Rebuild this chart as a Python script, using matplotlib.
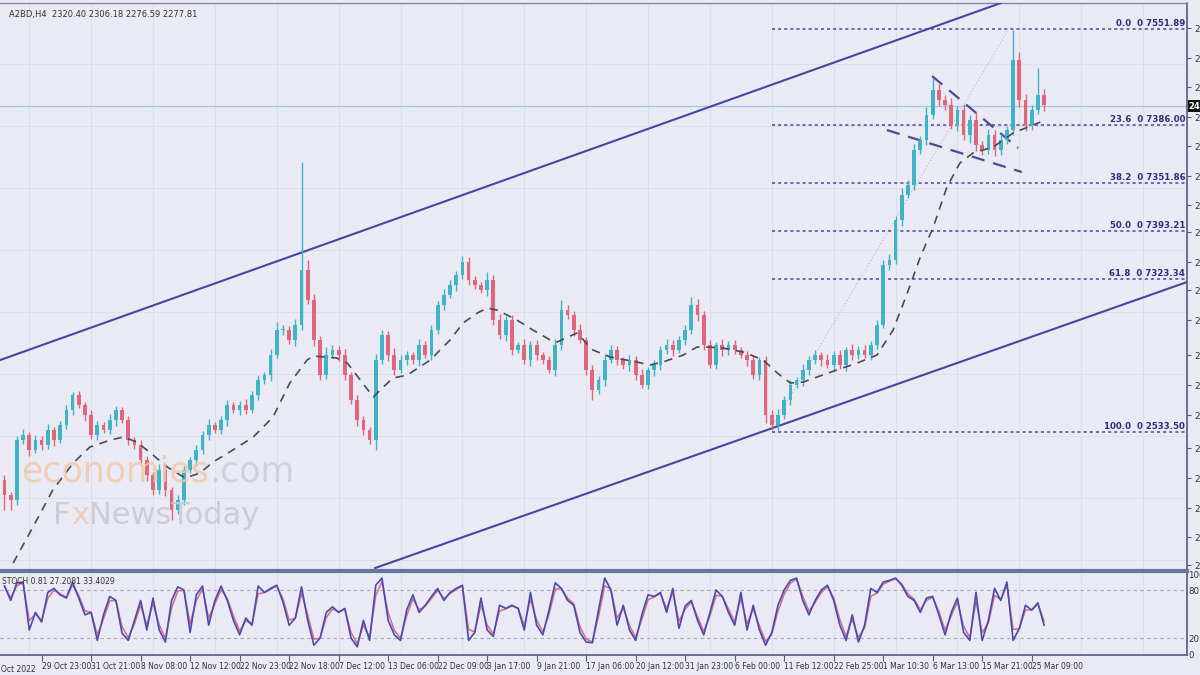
import numpy as np
import pandas as pd
import matplotlib
matplotlib.use('Agg')
import matplotlib.pyplot as plt

# ---- data (H4 bars, price units) ----
first_open = 2120
closes = [2105, 2100, 2160, 2165, 2150, 2160, 2155, 2170, 2160, 2175,
          2190, 2205, 2195, 2185, 2165, 2175, 2170, 2180, 2190, 2180,
          2160, 2155, 2140, 2125, 2110, 2130, 2110, 2090, 2100, 2130,
          2140, 2150, 2165, 2175, 2170, 2180, 2195, 2190, 2195, 2190,
          2205, 2220, 2225, 2245, 2270, 2270, 2260, 2275, 2330, 2300,
          2260, 2225, 2245, 2250, 2245, 2225, 2200, 2180, 2170, 2160,
          2240, 2265, 2245, 2230, 2240, 2245, 2240, 2255, 2245, 2270,
          2295, 2305, 2315, 2325, 2338, 2320, 2315, 2310, 2320, 2280,
          2265, 2280, 2250, 2255, 2240, 2255, 2245, 2240, 2230, 2255,
          2290, 2285, 2270, 2260, 2230, 2210, 2220, 2240, 2250, 2240,
          2235, 2240, 2225, 2215, 2230, 2235, 2250, 2255, 2250, 2260,
          2270, 2295, 2285, 2255, 2235, 2255, 2250, 2255, 2250, 2245,
          2240, 2225, 2240, 2185, 2175, 2185, 2200, 2215, 2220, 2230,
          2240, 2245, 2240, 2235, 2245, 2235, 2250, 2245, 2250, 2245,
          2255, 2275, 2335, 2340, 2380, 2405, 2415, 2450, 2460, 2485,
          2510, 2500, 2495, 2475, 2490, 2465, 2480, 2455, 2450, 2465,
          2450, 2460, 2470, 2540, 2500, 2475, 2490, 2505, 2495]
up_wick = [5, 3, 4, 6, 3, 5, 4, 6, 3, 4,
           5, 3, 4, 3, 5, 4, 3, 6, 4, 3,
           4, 3, 5, 4, 3, 6, 4, 3, 5, 4,
           3, 5, 4, 6, 3, 4, 5, 3, 4, 6,
           4, 5, 3, 6, 8, 5, 4, 6, 108, 10,
           6, 4, 8, 5, 4, 6, 3, 5, 4, 3,
           6, 5, 4, 7, 5, 4, 3, 6, 4, 5,
           4, 6, 5, 4, 6, 5, 4, 3, 8, 5,
           6, 4, 5, 3, 6, 4, 5, 3, 4, 6,
           10, 5, 4, 6, 3, 5, 4, 6, 5, 4,
           3, 5, 4, 6, 3, 5, 4, 6, 5, 4,
           5, 8, 6, 4, 5, 3, 6, 4, 5, 3,
           4, 5, 3, 4, 5, 6, 4, 5, 3, 6,
           4, 5, 3, 6, 4, 5, 3, 6, 4, 5,
           4, 5, 5, 6, 4, 7, 5, 6, 4, 8,
           12, 6, 5, 7, 4, 6, 5, 8, 4, 6,
           5, 6, 4, 30, 8, 6, 5, 27, 6]
dn_wick = [15, 10, 5, 4, 6, 3, 5, 4, 6, 3,
           4, 5, 3, 6, 4, 5, 3, 4, 6, 3,
           5, 4, 3, 6, 5, 4, 6, 10, 4, 5,
           3, 6, 4, 5, 3, 4, 6, 3, 5, 4,
           3, 5, 4, 6, 3, 5, 4, 6, 5, 4,
           6, 5, 4, 3, 6, 5, 4, 6, 5, 4,
           10, 4, 6, 5, 3, 5, 4, 6, 3, 5,
           4, 5, 3, 6, 4, 5, 4, 3, 6, 5,
           4, 6, 5, 3, 4, 6, 5, 4, 3, 6,
           5, 4, 6, 3, 5, 10, 4, 6, 3, 5,
           4, 6, 5, 3, 4, 6, 5, 4, 6, 3,
           5, 4, 6, 5, 3, 4, 6, 5, 4, 3,
           6, 4, 5, 8, 5, 6, 4, 5, 3, 6,
           5, 4, 6, 3, 5, 4, 6, 5, 4, 3,
           5, 4, 3, 5, 4, 6, 3, 5, 4, 5,
           4, 6, 5, 4, 6, 5, 8, 6, 5, 4,
           6, 5, 4, 5, 7, 6, 5, 4, 6]
stoch_k = [85, 67, 89, 90, 30, 52, 40, 77, 82, 74,
           70, 90, 70, 49, 52, 17, 49, 72, 67, 26,
           17, 42, 67, 30, 70, 30, 15, 67, 84, 80,
           27, 74, 85, 36, 67, 85, 67, 42, 24, 45,
           36, 85, 77, 82, 86, 65, 36, 45, 84, 42,
           11, 20, 52, 59, 52, 57, 20, 9, 42, 17,
           86, 95, 42, 24, 17, 55, 74, 52, 61, 72,
           82, 67, 77, 82, 86, 17, 27, 70, 30, 22,
           61, 57, 61, 57, 30, 77, 36, 24, 55, 89,
           82, 67, 61, 27, 15, 14, 55, 95, 80, 36,
           61, 30, 17, 49, 74, 72, 77, 52, 82, 32,
           60, 67, 42, 24, 52, 80, 72, 52, 36, 77,
           30, 61, 30, 11, 27, 61, 80, 92, 95, 67,
           49, 67, 80, 86, 67, 36, 17, 49, 15, 36,
           82, 77, 90, 92, 95, 86, 72, 67, 52, 70,
           72, 49, 24, 52, 70, 27, 17, 77, 17, 42,
           82, 67, 90, 17, 32, 61, 55, 64, 36]

# moving average (bar index, price)
ma_idx = [1.4, 4.6, 7.8, 11.1, 13.8, 17.1, 19.2, 21.4, 24, 26.3, 29.2, 31.6, 33.7,
          36.9, 40.2, 43.4, 46.1, 48.9, 49.9, 53.7, 55.4, 57.5, 59.6, 61.2, 62.8,
          65.1, 68.8, 72, 74.1, 76.4, 78, 79.6, 82.8, 85.4, 88.2, 89.3, 92.5, 95.1,
          97.9, 102.2, 104.3, 106.4, 109.7, 111.9, 113.5, 116.1, 119.4, 122.6,
          124.9, 127, 129.1, 131.3, 134.5, 137.8, 141, 143.6, 145.9, 148, 150.1,
          152.3, 154.4, 156.5, 159.8, 163, 167.4]
ma_val = [2037, 2073, 2110, 2137, 2153, 2160, 2163, 2158, 2145, 2133, 2122, 2127, 2138,
          2150, 2163, 2183, 2217, 2240, 2244, 2242, 2237, 2220, 2203, 2213, 2222,
          2225, 2240, 2260, 2277, 2287, 2292, 2290, 2280, 2270, 2260, 2258, 2267, 2250,
          2243, 2238, 2235, 2238, 2245, 2253, 2253, 2252, 2248, 2240,
          2227, 2217, 2218, 2223, 2230, 2237, 2245, 2270, 2307, 2343, 2373,
          2413, 2437, 2447, 2453, 2467, 2478]

# drawn objects (bar index, price)
channel_up_x, channel_up_y = [-0.7, 161.0], [2240, 2597]
channel_dn_x, channel_dn_y = [59.9, 191.1], [2032, 2318]
flag_up_x, flag_up_y = [149.9, 163.8], [2524, 2452]
flag_dn_x, flag_dn_y = [142.6, 164.4], [2470, 2428]
fib_trend_x, fib_trend_y = [123.7, 162.2], [2170, 2570]
fib_start = 124
fib_prices = [2571, 2475, 2417, 2369, 2321, 2168]
fib_labels = ['0.0  0 7551.89', '23.6  0 7386.00', '38.2  0 7351.86',
              '50.0  0 7393.21', '61.8  0 7323.34', '100.0  0 2533.50']
last_price = 2494

price_ticks = [2572, 2542, 2513, 2483, 2454, 2424, 2395, 2368, 2338, 2310,
               2280, 2245, 2215, 2185, 2152, 2122, 2092, 2063, 2035]
date_labels = ['29 Oct 23:00', '31 Oct 21:00', '8 Nov 08:00', '12 Nov 12:00',
               '22 Nov 23:00', '22 Nov 18:00', '7 Dec 12:00', '13 Dec 06:00',
               '22 Dec 09:00', '3 Jan 17:00', '9 Jan 21:00', '17 Jan 06:00',
               '20 Jan 12:00', '31 Jan 23:00', '6 Feb 00:00', '11 Feb 12:00',
               '22 Feb 25:00', '1 Mar 10:30', '6 Mar 13:00', '15 Mar 21:00',
               '25 Mar 09:00']

# ---- build ----
bg = '#e9eaf3'
navy = '#4646a0'
bull, bear = '#3fb4c6', '#e0677a'

n = len(closes)
x = np.arange(n)
c = np.array(closes, float)
o = np.array([first_open] + closes[:-1], float)
hi = np.maximum(o, c) + np.array(up_wick)
lo = np.minimum(o, c) - np.array(dn_wick)
cols = [bull if cc >= oo else bear for oo, cc in zip(o, c)]

fig = plt.figure(figsize=(12, 6.75), dpi=100, facecolor=bg)
ax = fig.add_axes([0, 0.157, 0.98917, 0.8385], facecolor=bg)
ax2 = fig.add_axes([0, 0.0296, 0.98917, 0.1244], facecolor=bg)
xlim = (-0.727, 191.1)

# grid
for gx in np.arange(4, 192, 10):
    ax.axvline(gx, color='#dcdeea', lw=0.7, zorder=0)
    ax2.axvline(gx, color='#dcdeea', lw=0.7, zorder=0)
for gy in np.arange(2040, 2600, 62):
    ax.axhline(gy, color='#dcdeea', lw=0.7, zorder=0)

# current price line
ax.axhline(last_price, color='#9fc9ea', lw=0.9, zorder=1)

# fibonacci levels
for p, lab in zip(fib_prices, fib_labels):
    ax.plot([fib_start, xlim[1]], [p, p], color=navy, lw=1.1,
            linestyle=(0, (2, 2)), zorder=2)
    ax.text(190.8, p + 1.5, lab, ha='right', va='bottom', fontsize=6.2,
            color='#2e2e7e', fontweight='bold', zorder=5)
ax.plot(fib_trend_x, fib_trend_y, color='#b9bbcc', lw=0.8, linestyle=(0, (1, 2)), zorder=1)

# channel + flag
ax.plot(channel_up_x, channel_up_y, color=navy, lw=1.5, zorder=3)
ax.plot(channel_dn_x, channel_dn_y, color=navy, lw=1.5, zorder=3)
ax.plot(flag_up_x, flag_up_y, color='#4a4a96', lw=1.6, linestyle=(0, (6, 4)), zorder=3)
ax.plot(flag_dn_x, flag_dn_y, color='#4a4a96', lw=1.6, linestyle=(0, (6, 4)), zorder=3)

# candles
ax.vlines(x, lo, hi, colors=cols, lw=1.0, zorder=4)
body = np.where(np.abs(c - o) < 1, 1, c - o)
ax.bar(x, body, bottom=o, width=0.6, color=cols, linewidth=0, zorder=4)

# moving average
ax.plot(ma_idx, ma_val, color='#4a4a52', lw=1.2, linestyle=(0, (5, 4)), zorder=5)

ax.set_xlim(*xlim)
ax.set_ylim(2031, 2597)
ax.set_xticks([])
ax.yaxis.tick_right()
ax.set_yticks(price_ticks)
ax.set_yticklabels([str(t) + '.00' for t in price_ticks])
ax.tick_params(axis='y', labelsize=6.5, length=3, width=0.8, colors='#555a80',
               labelcolor='#333333', pad=2)
for s in ['left', 'bottom']:
    ax.spines[s].set_visible(False)
ax.spines['right'].set_color('#555a80')
ax.spines['right'].set_linewidth(1.2)
ax.spines['top'].set_color('#8088a8')
ax.spines['top'].set_linewidth(1.0)

ax.text(191.4, last_price, str(last_price), ha='left', va='center', fontsize=6,
        color='white', fontweight='bold', clip_on=False,
        bbox=dict(boxstyle='square,pad=0.15', fc='#111111', ec='none'))

ax.text(0.008, 0.988, 'A2BD,H4  2320.40 2306.18 2276.59 2277.81', transform=ax.transAxes,
        fontsize=6, color='#333333', va='top', ha='left')

# watermark
t1 = ax.text(0.018, 0.155, 'economies', transform=ax.transAxes, fontsize=25,
             color='#f3c6a6', alpha=0.8, zorder=6)
ax.annotate('.com', xy=(1, 0), xycoords=t1, fontsize=25, color='#c9ccd8',
            alpha=0.8, va='bottom', zorder=6)
t2 = ax.text(0.045, 0.08, 'F', transform=ax.transAxes, fontsize=22,
             color='#c6c8d3', alpha=0.85, zorder=6)
t3 = ax.annotate('x', xy=(1, 0), xycoords=t2, fontsize=22, color='#efc7b2',
                 alpha=0.85, va='bottom', zorder=6)
ax.annotate('NewsToday', xy=(1, 0), xycoords=t3, fontsize=22, color='#c6c8d3',
            alpha=0.85, va='bottom', zorder=6)

# ---- stochastic panel ----
k = pd.Series(stoch_k, dtype=float)
d = k.ewm(alpha=0.8).mean()
ax2.axhline(80, color='#a6a8b8', lw=0.8, linestyle=(0, (3, 3)))
ax2.axhline(20, color='#a6a8b8', lw=0.8, linestyle=(0, (3, 3)))
ax2.plot(x, d, color='#d86a86', lw=1.1)
ax2.plot(x, k, color='#4a4ab0', lw=1.2)
ax2.set_xlim(*xlim)
ax2.set_ylim(-1.25, 103.75)
ax2.yaxis.tick_right()
ax2.set_yticks([100, 80, 20, 0])
ax2.set_yticklabels(['100', '80', '20', '0'])
ax2.tick_params(axis='y', labelsize=6.2, length=0, labelcolor='#333333', pad=1)
ax2.set_xticks(np.arange(6, 167, 8))
ax2.set_xticklabels(date_labels, ha='left')
ax2.tick_params(axis='x', labelsize=5.5, length=4, width=0.8, colors='#555a80',
                labelcolor='#333333', pad=1)
ax2.spines['left'].set_visible(False)
ax2.spines['top'].set_color('#6c74a0')
ax2.spines['top'].set_linewidth(3)
for s in ['right', 'bottom']:
    ax2.spines[s].set_color('#555a80')
    ax2.spines[s].set_linewidth(1.2)
ax2.text(0.002, 0.93, 'STOCH 0.81 27.2081 33.4029', transform=ax2.transAxes,
         fontsize=5.5, color='#333333', va='top', ha='left')
ax2.text(5.0, -0.12, '27 Oct 2022', transform=ax2.get_xaxis_transform(),
         ha='right', va='top', fontsize=5.5, color='#333333', clip_on=False)

fig.savefig('out.png', dpi=100, facecolor=bg)
